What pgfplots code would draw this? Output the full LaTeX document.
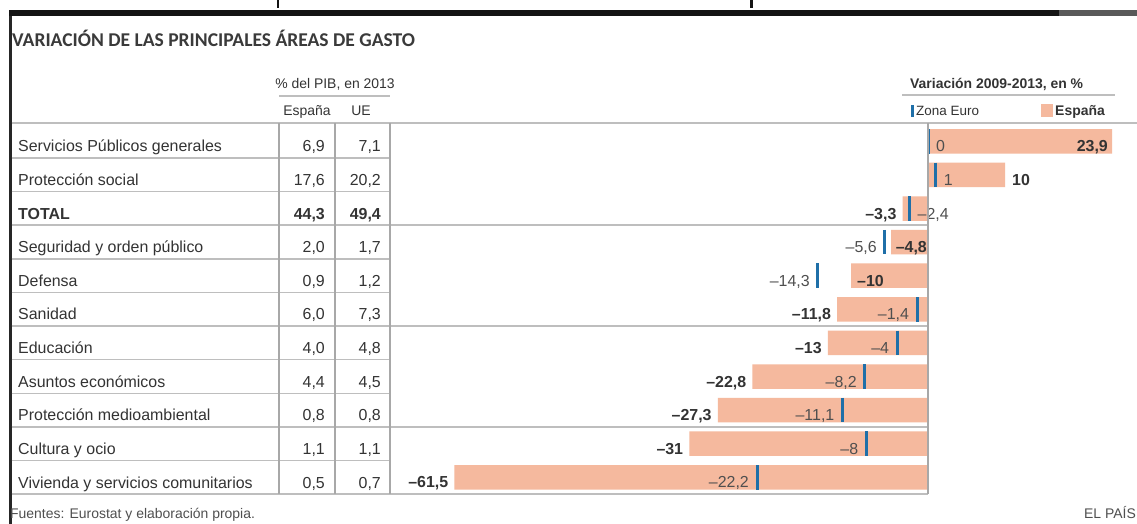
\documentclass[border=0pt]{standalone}
\usepackage{fontspec}
\setmainfont{Liberation Sans}
\newfontfamily\titlefont{Carlito}
\usepackage{pgfplots}
\pgfplotsset{compat=1.18}
\definecolor{salmon}{HTML}{F5B99E}
\definecolor{zblue}{HTML}{1F6FA8}
\definecolor{txt}{HTML}{333333}
\definecolor{txtl}{HTML}{4F4F4F}
\definecolor{ttl}{HTML}{3A3A3A}
\definecolor{rulec}{HTML}{BEBEBE}
\definecolor{vrulec}{HTML}{A8A8A8}
\newcommand\fs[1]{\fontsize{#1}{#1}\selectfont}
\newcommand\row[4]{%
  \pgfmathsetmacro\bl{152+33.6*(#1-1)}%
  \node[anchor=base west,inner sep=0pt,text=txt] at (18,\bl) {\fs{16}#2};
  \node[anchor=base east,inner sep=0pt,text=txt] at (325,\bl) {\fs{16}#3};
  \node[anchor=base east,inner sep=0pt,text=txt] at (381,\bl) {\fs{16}#4};
}
\pgfplotsset{lab/.style={draw=none, nodes near coords, point meta=explicit symbolic,
  every node near coord/.append style={inner sep=0pt, yshift=-10.5bp, text=txt, font={\fs{16}}}}}
\begin{document}
\begin{tikzpicture}[x=1bp,y=-1bp]
\useasboundingbox (0,0) rectangle (1137,524);
\fill[white] (0,0) rectangle (1137,524);
% top band and border
\fill[black!92] (9,10) rectangle (1059,16.5);
\fill[black!65] (1059,10) rectangle (1137,16.5);
\fill[black!92] (276.5,0) rectangle (279,8);
\fill[black!92] (750,0) rectangle (752.5,8);
\fill[black!85] (8.5,16) rectangle (11.5,524);
% title
\node[anchor=base west,inner sep=0pt,text=ttl] at (12,47) {\titlefont\bfseries\fs{19.6}VARIACIÓN DE LAS PRINCIPALES ÁREAS DE GASTO};
% headers
\node[anchor=base,inner sep=0pt,text=txt] at (335,89) {\fs{14}\% del PIB, en 2013};
\draw[rulec,line width=1.5bp] (279,96) -- (390,96);
\node[anchor=base,inner sep=0pt,text=txt] at (307,116) {\fs{14}España};
\node[anchor=base,inner sep=0pt,text=txt] at (361,116) {\fs{14}UE};
\node[anchor=base west,inner sep=0pt,text=txt] at (910,89) {\fs{14}\bfseries Variación 2009-2013, en \%};
\draw[rulec,line width=1.5bp] (902,95) -- (1115,95);
\fill[zblue] (910.5,105) rectangle (913.5,117);
\node[anchor=base west,inner sep=0pt,text=txt] at (916,116) {\fs{13.5}Zona Euro};
\fill[salmon] (1041,104) rectangle (1053,117);
\node[anchor=base west,inner sep=0pt,text=txt] at (1055,116) {\fs{14}\bfseries España};
% rules
\draw[rulec,line width=1.6bp] (11.5,123) -- (1137,123);
\foreach \k in {1,2,4,5,7,8,10} {\draw[rulec,line width=1.5bp] (11.5,{124.5+33.6*\k}) -- (390,{124.5+33.6*\k});}
\foreach \k in {3,6,9} {\draw[rulec,line width=2.2bp] (11.5,{124.5+33.6*\k}) -- (928,{124.5+33.6*\k});}
\draw[rulec,line width=2.2bp] (11.5,494) -- (928,494);
\foreach \xx in {279,335,390} {\draw[vrulec,line width=1.3bp] (\xx,123) -- (\xx,494);}
% table
\row{1}{Servicios Públicos generales}{6,9}{7,1}
\row{2}{Protección social}{17,6}{20,2}
\row{3}{\bfseries TOTAL}{\bfseries 44,3}{\bfseries 49,4}
\row{4}{Seguridad y orden público}{2,0}{1,7}
\row{5}{Defensa}{0,9}{1,2}
\row{6}{Sanidad}{6,0}{7,3}
\row{7}{Educación}{4,0}{4,8}
\row{8}{Asuntos económicos}{4,4}{4,5}
\row{9}{Protección medioambiental}{0,8}{0,8}
\row{10}{Cultura y ocio}{1,1}{1,1}
\row{11}{Vivienda y servicios comunitarios}{0,5}{0,7}
% footer
\node[anchor=base west,inner sep=0pt,text=txtl] at (10,518) {\fs{14}Fuentes: Eurostat y elaboración propia.};
\node[anchor=base east,inner sep=0pt,text=txtl] at (1136,518) {\fs{14}EL PAÍS};
\begin{axis}[
  at={(0bp,-524bp)}, anchor=south west,
  width=1137bp, height=524bp, scale only axis,
  xmin=-120.519, xmax=27.143,
  ymin=-3.2054, ymax=12.390, y dir=reverse,
  hide axis, clip=false,
]
% Espana
\addplot[xbar, bar width=24.5bp, bar shift=0pt, fill=salmon, draw=none]
  coordinates {(23.9,1) (10,2) (-3.3,3) (-4.8,4) (-10,5) (-11.8,6) (-13,7) (-22.8,8) (-27.3,9) (-31,10) (-61.5,11)};
% Zona Euro
\addplot[only marks, mark=|, mark size=12.25bp, mark options={line width=3bp, draw=zblue}]
  coordinates {(0,1) (1,2) (-2.4,3) (-5.6,4) (-14.3,5) (-1.4,6) (-4,7) (-8.2,8) (-11.1,9) (-8,10) (-22.2,11)};
% labels Espana
\addplot[lab, every node near coord/.append style={anchor=base east, xshift=-6bp, font={\fs{16}\bfseries}}]
  coordinates {(-3.3,3) [{–3,3}] (-11.8,6) [{–11,8}] (-13,7) [{–13}] (-22.8,8) [{–22,8}] (-27.3,9) [{–27,3}] (-31,10) [{–31}] (-61.5,11) [{–61,5}]};
\addplot[lab, every node near coord/.append style={anchor=base east, xshift=-4bp, font={\fs{16}\bfseries}}]
  coordinates {(23.9,1) [{23,9}]};
\addplot[lab, every node near coord/.append style={anchor=base west, xshift=7bp, font={\fs{16}\bfseries}}]
  coordinates {(10,2) [{10}]};
\addplot[lab, every node near coord/.append style={anchor=base east, xshift=-1bp, font={\fs{16}\bfseries}}]
  coordinates {(0,4) [{–4,8}]};
\addplot[lab, every node near coord/.append style={anchor=base west, xshift=6bp, font={\fs{16}\bfseries}}]
  coordinates {(-10,5) [{–10}]};
% labels Zona Euro
\addplot[lab, every node near coord/.append style={anchor=base west, xshift=8bp, text=txtl}]
  coordinates {(0,1) [{0}] (1,2) [{1}] (-2.4,3) [{–2,4}]};
\addplot[lab, every node near coord/.append style={anchor=base east, xshift=-8bp, text=txtl}]
  coordinates {(-5.6,4) [{–5,6}] (-14.3,5) [{–14,3}] (-1.4,6) [{–1,4}] (-4,7) [{–4}] (-8.2,8) [{–8,2}] (-11.1,9) [{–11,1}] (-8,10) [{–8}] (-22.2,11) [{–22,2}]};
\end{axis}
\draw[vrulec,line width=1.3bp] (928,123) -- (928,494);
\end{tikzpicture}
\end{document}
